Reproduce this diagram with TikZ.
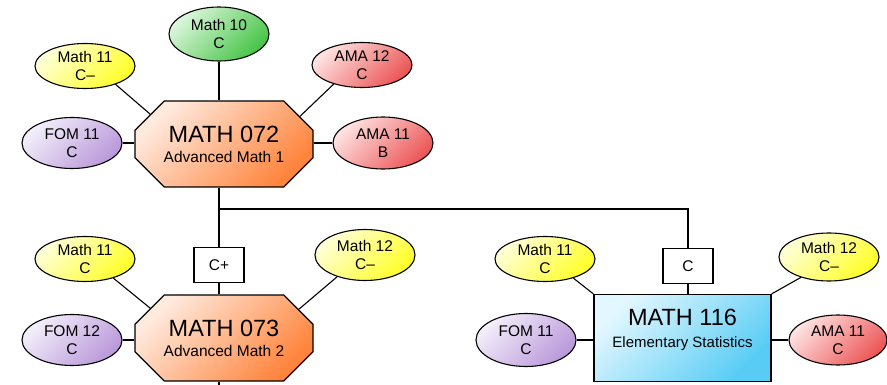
\documentclass[tikz,border=0pt]{standalone}
\usepackage{fontspec}
\setmainfont{Liberation Sans}
\usetikzlibrary{shapes.geometric, shapes.misc}
\definecolor{yelA}{RGB}{255,255,215}
\definecolor{yelB}{RGB}{255,255,40}
\definecolor{grnA}{RGB}{220,246,220}
\definecolor{grnB}{RGB}{70,196,70}
\definecolor{redA}{RGB}{255,226,226}
\definecolor{redB}{RGB}{236,86,86}
\definecolor{purA}{RGB}{243,239,250}
\definecolor{purB}{RGB}{186,152,218}
\definecolor{orgA}{RGB}{255,234,222}
\definecolor{orgB}{RGB}{255,132,60}
\definecolor{bluA}{RGB}{226,247,255}
\definecolor{bluB}{RGB}{88,204,245}
\newcommand{\bigname}[1]{{\fontsize{23.5}{24}\selectfont #1}}
\tikzset{
  shadeit/.style 2 args={top color=#1, bottom color=#2, shading angle=45},
  grade/.style={ellipse, draw, line width=1.1pt, inner sep=0pt, minimum width=100pt,
    minimum height=#1, align=center, font=\fontsize{15.5}{18.5}\selectfont},
  grade/.default=46pt,
  yel/.style={grade=#1, shadeit={yelA}{yelB}}, yel/.default=46pt,
  grn/.style={grade=#1, shadeit={grnA}{grnB}}, grn/.default=46pt,
  pink/.style={grade=#1, shadeit={redA}{redB}}, pink/.default=46pt,
  lav/.style={grade=#1, shadeit={purA}{purB}}, lav/.default=46pt,
  course/.style={chamfered rectangle, chamfered rectangle xsep=24pt,
    chamfered rectangle ysep=11pt, draw, line width=1.2pt,
    inner sep=0pt, minimum width=178pt, minimum height=86pt, align=center,
    font=\fontsize{15.5}{20}\selectfont, shadeit={orgA}{orgB}},
  statbox/.style={rectangle, draw, line width=1.2pt, minimum width=177pt, minimum height=87pt,
    align=center, text depth=20pt, font=\fontsize{15}{22}\selectfont, shadeit={bluA}{bluB}},
  gate/.style={rectangle, draw, fill=white, line width=1.1pt, minimum width=50pt,
    minimum height=35pt, font=\fontsize{15.5}{18}\selectfont},
  link/.style={line width=1.1pt}
}
\begin{document}
\begin{tikzpicture}[x=1pt,y=-1pt]
\useasboundingbox (0,0) rectangle (887,385);

\node[course] (m072) at (224,144) {\bigname{MATH 072}\\Advanced Math 1};
\node[grn=54pt] (m10) at (219,34) {Math 10\\C};
\node[yel=45pt] (m11a) at (85,66) {Math 11\\C--};
\node[pink=45pt] (ama12) at (362,65) {AMA 12\\C};
\node[lav=51pt] (fom11a) at (72,143) {FOM 11\\C};
\node[pink=52pt] (ama11a) at (383,143) {AMA 11\\B};

\node[gate] (cplus) at (219,265) {C+};
\node[course] (m073) at (224,338) {\bigname{MATH 073}\\Advanced Math 2};
\node[yel=45pt] (m11b) at (85,259) {Math 11\\C};
\node[yel=51pt] (m12a) at (365,255) {Math 12\\C--};
\node[lav=51pt] (fom12) at (72,340) {FOM 12\\C};

\node[gate] (cc) at (688,266) {C};
\node[statbox] (m116) at (682.5,338) {\bigname{MATH 116}\\Elementary Statistics};
\node[yel=45pt] (m11c) at (545,259) {Math 11\\C};
\node[yel=48pt] (m12b) at (829,257) {Math 12\\C--};
\node[lav=53pt] (fom11b) at (526,340) {FOM 11\\C};
\node[pink=50pt, minimum width=98pt] (ama11b) at (838,340) {AMA 11\\C};

\coordinate (split) at (219,209);
\coordinate (stub) at (219,386);

\draw[link] (m10.south) -- (m10.south |- m072.north);
\draw[link] (m11a.-31) -- (m072.158);
\draw[link] (ama12.-146) -- (m072.20);
\draw[link] (fom11a.east) -- (fom11a.east -| m072.west);
\draw[link] (ama11a.west) -- (ama11a.west -| m072.east);

\draw[link] (cplus |- m072.south) -- (cplus.north);
\draw[link] (split) -| (cc.north);
\draw[link] (cplus.south) -- (cplus |- m073.north);
\draw[link] (cplus |- m073.south) -- (stub);
\draw[link] (m11b.-34) -- (m073.158);
\draw[link] (m12a.-142) -- (m073.21);
\draw[link] (fom12.east) -- (fom12.east -| m073.west);

\draw[link] (cc.south) -- (cc.south |- m116.north);
\draw[link] (m11c.-34) -- (m116.north west);
\draw[link] (m12b.-144) -- (m116.north east);
\draw[link] (fom11b.east) -- (fom11b.east -| m116.west);
\draw[link] (ama11b.west) -- (ama11b.west -| m116.east);
\end{tikzpicture}
\end{document}
